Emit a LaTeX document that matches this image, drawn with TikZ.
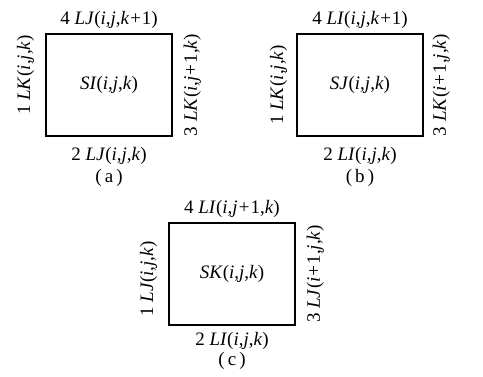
\documentclass[tikz,border=0pt]{standalone}
\usepackage{fontspec}
\setmainfont{Liberation Serif}
\usepackage{tikz}
\usetikzlibrary{positioning}
\newcommand{\ijk}[3]{(\textit{#1},\textit{#2},\textit{#3})}

\begin{document}
\begin{tikzpicture}[
    x=1pt, y=1pt,
    node distance=4pt,
    cell/.style={rectangle, draw=black, line width=1.2pt, minimum width=126pt, minimum height=102pt, inner sep=0pt, font=\fontsize{19}{22}\selectfont},
    lbl/.style={inner sep=1pt, font=\fontsize{19}{22}\selectfont},
    side/.style={lbl, rotate=90}
]
\useasboundingbox (0,0) rectangle (483,-376);

% (a)
\node[cell] (SI) at (109,-85) {\textit{SI}\ijk{i}{j}{k}};
\node[lbl, above=of SI] (SItop) {4 \textit{LJ}\ijk{i}{j}{k+\textup{1}}};
\node[lbl, below=10pt of SI] (SIbot) {2 \textit{LJ}\ijk{i}{j}{k}};
\node[lbl, below=2pt of SIbot] (capa) {(\,a\,)};
\node[side, anchor=south] (SIleft) at ([xshift=-10pt, yshift=10pt]SI.west) {1 \textit{LK}\ijk{i}{j}{k}};
\node[side, anchor=north] (SIright) at ([xshift=10pt]SI.east) {3 \textit{LK}\ijk{i}{j+\textup{1}}{k}};

% (b)
\node[cell] (SJ) at (360,-85) {\textit{SJ}\ijk{i}{j}{k}};
\node[lbl, above=of SJ] (SJtop) {4 \textit{LI}\ijk{i}{j}{k+\textup{1}}};
\node[lbl, below=10pt of SJ] (SJbot) {2 \textit{LI}\ijk{i}{j}{k}};
\node[lbl, below=2pt of SJbot] (capb) {(\,b\,)};
\node[side, anchor=south] (SJleft) at ([xshift=-8pt]SJ.west) {1 \textit{LK}\ijk{i}{j}{k}};
\node[side, anchor=north] (SJright) at ([xshift=8pt]SJ.east) {3 \textit{LK}\ijk{i+\textup{1}}{j}{k}};

% (c)
\node[cell] (SK) at (232,-274) {\textit{SK}\ijk{i}{j}{k}};
\node[lbl, above=of SK] (SKtop) {4 \textit{LI}\ijk{i}{j+\textup{1}}{k}};
\node[lbl, below=6pt of SK] (SKbot) {2 \textit{LI}\ijk{i}{j}{k}};
\node[lbl, below=0pt of SKbot] (capc) {(\,c\,)};
\node[side, anchor=south] (SKleft) at ([xshift=-10pt, yshift=-5pt]SK.west) {1 \textit{LJ}\ijk{i}{j}{k}};
\node[side, anchor=north] (SKright) at ([xshift=10pt]SK.east) {3 \textit{LJ}\ijk{i+\textup{1}}{j}{k}};

\end{tikzpicture}
\end{document}
